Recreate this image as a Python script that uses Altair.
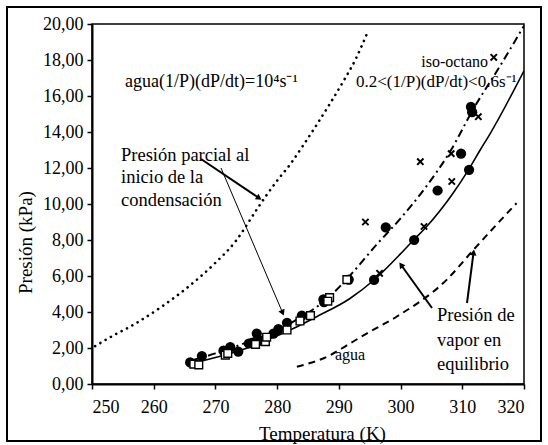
import math
import altair as alt
import pandas as pd

# ---- curves: temperature (K) and pressure (kPa) ----
dotted_T = [250.5, 252.7, 257.0, 261.3, 265.6, 269.9, 273.2, 276.9, 278.3, 280.0, 282.1, 284.3, 286.4, 288.6, 290.7, 292.8, 294.6]
dotted_P = [2.1, 2.55, 3.35, 4.3, 5.4, 6.7, 7.9, 9.8, 10.5, 11.3, 12.2, 13.3, 14.4, 15.6, 16.8, 18.1, 19.5]

dashdot_T = [266, 270, 275, 280, 284, 288, 292, 296, 300, 304, 308, 312, 316, 320]
dashdot_P = [1.3, 1.7, 2.3, 3.0, 3.75, 4.7, 6.1, 7.7, 9.2, 10.9, 12.9, 15.4, 17.6, 19.9]

solid_T = [265.4, 270.3, 275.6, 278.3, 282.1, 286.4, 291.8, 295.6, 299.9, 302.1, 304.2, 308.5, 311.0, 312.9, 314.5, 320.0]
solid_P = [1.1, 1.5, 2.05, 2.44, 3.0, 3.74, 4.75, 5.75, 7.2, 8.0, 8.74, 10.6, 11.9, 13.0, 13.9, 17.4]

water_T = [283.2, 288.6, 291.3, 294.5, 299.4, 307.5, 311.8, 318.8]
water_P = [0.96, 1.6, 2.15, 2.8, 3.75, 5.8, 7.45, 10.05]

# ---- measured points ----
circle_T = [265.9, 267.8, 271.3, 272.4, 273.7, 275.4, 276.0, 276.7, 277.2, 279.4, 280.2, 281.6, 284.0, 287.5, 287.6, 291.6, 295.7, 297.6, 302.2, 306.0, 309.8, 311.1, 311.4, 311.6]
circle_P = [1.2, 1.55, 1.85, 2.05, 1.8, 2.25, 2.3, 2.8, 2.4, 2.8, 3.05, 3.4, 3.8, 4.7, 4.55, 5.8, 5.78, 8.7, 8.0, 10.75, 12.8, 11.9, 15.4, 15.1]

square_T = [266.5, 267.3, 271.6, 272.0, 276.5, 278.1, 278.3, 281.6, 283.7, 285.4, 288.5, 288.2, 291.3]
square_P = [1.1, 1.06, 1.6, 1.7, 2.2, 2.35, 2.6, 3.0, 3.5, 3.8, 4.8, 4.6, 5.8]

cross_T = [315.1, 312.6, 308.2, 303.2, 308.3, 294.3, 303.8, 296.6]
cross_P = [18.15, 14.85, 12.8, 12.35, 11.25, 9.0, 8.75, 6.15]

FONT = "Liberation Serif"
LEFT, TOP = 92, 24          # plot origin inside the page
W, H = 432, 360

x_scale = alt.Scale(domain=[250, 320], nice=False, zero=False)
y_scale = alt.Scale(domain=[0, 20], nice=False, zero=True)
x_axis = alt.Axis(values=list(range(250, 321, 10)), title="Temperatura (K)", grid=False,
                  labelPadding=9, titleX=230, titleY=49, titleBaseline="middle")
y_axis = alt.Axis(values=list(range(0, 21, 2)), title="Presión (kPa)", grid=False,
                  labelExpr="replace(format(datum.value, '.2f'), '.', ',')",
                  titleX=-67, titleY=218, titleBaseline="middle", titleAngle=270)

X = alt.X("T:Q", scale=x_scale, axis=x_axis)
Y = alt.Y("P:Q", scale=y_scale, axis=y_axis)


def frame(ts, ps):
    return pd.DataFrame({"T": ts, "P": ps})


def curve(ts, ps, **style):
    return alt.Chart(frame(ts, ps)).mark_line(color="black", interpolate="monotone", clip=True, **style).encode(x=X, y=Y)


one = pd.DataFrame({"k": [0]})


def px(x):
    return x - LEFT


def py(y):
    return y - TOP


def label(text, x, y, size, align="left"):
    return alt.Chart(one).mark_text(text=text, font=FONT, fontSize=size, align=align,
                                    baseline="middle", color="black").encode(
        x=alt.value(px(x)), y=alt.value(py(y)))


def arrow(tail, head, width):
    tx, ty = tail
    hx, hy = head
    dx, dy = hx - tx, hy - ty
    n = math.hypot(dx, dy)
    ux, uy = dx / n, dy / n
    ang = math.degrees(math.atan2(dx, -dy)) % 360
    line = alt.Chart(one).mark_rule(color="black", strokeWidth=width).encode(
        x=alt.value(px(tx)), y=alt.value(py(ty)),
        x2=alt.value(px(hx - 4 * ux)), y2=alt.value(py(hy - 4 * uy)))
    head_mark = alt.Chart(one).mark_point(shape="triangle-up", filled=True, color="black",
                                          size=45, angle=ang, opacity=1).encode(
        x=alt.value(px(hx - 3.5 * ux)), y=alt.value(py(hy - 3.5 * uy)))
    return line + head_mark


dotted = curve(dotted_T, dotted_P, strokeWidth=2.6, strokeDash=[0.1, 6], strokeCap="round")
dashdot = curve(dashdot_T, dashdot_P, strokeWidth=2, strokeDash=[8, 4, 2, 4])
solid = curve(solid_T, solid_P, strokeWidth=1.6)
water = curve(water_T, water_P, strokeWidth=2, strokeDash=[7, 5])

circles = alt.Chart(frame(circle_T, circle_P)).mark_point(
    shape="circle", filled=True, color="black", size=105, opacity=1).encode(x=X, y=Y)
squares = alt.Chart(frame(square_T, square_P)).mark_point(
    shape="square", filled=True, fill="white", stroke="black", strokeWidth=1.4, size=60, opacity=1).encode(x=X, y=Y)
crosses = alt.Chart(frame(cross_T, cross_P)).mark_point(
    shape="M-1,-1L1,1M-1,1L1,-1", filled=False, color="black", strokeWidth=2, size=40, opacity=1).encode(x=X, y=Y)

border = alt.Chart(one).mark_rect(fill=None, stroke="black", strokeWidth=2, clip=False).encode(
    x=alt.value(px(7)), x2=alt.value(px(541)), y=alt.value(py(7)), y2=alt.value(py(441)))

texts = [
    label("agua(1/P)(dP/dt)=10⁴s⁻¹", 125, 82, 18),
    label("iso-octano", 488, 62, 16, align="right"),
    label("0.2<(1/P)(dP/dt)<0.6s⁻¹", 356, 82, 17),
    label("Presión parcial al", 121, 155, 18.5),
    label("inicio de la", 121, 177, 18.5),
    label("condensación", 121, 200, 18.5),
    label("Presión de", 437, 315, 18.5),
    label("vapor en", 437, 340, 18.5),
    label("equilibrio", 437, 364, 18.5),
    label("agua", 335, 355, 16),
]

arrows = [
    arrow((201, 159), (262, 200), 2),
    arrow((221, 168), (284, 316), 1),
    arrow((432, 308), (399, 262), 2),
    arrow((467, 303), (474, 249), 2),
]

chart = alt.layer(
    dotted, dashdot, solid, water, circles, squares, crosses, border, *texts, *arrows
).properties(
    width=W, height=H, autosize="none", background="white",
    padding={"left": LEFT, "top": TOP, "right": 548 - LEFT - W, "bottom": 445 - TOP - H},
).configure_view(
    stroke="black", strokeWidth=1.5
).configure_axis(
    domainColor="black", domainWidth=2, tickColor="black", tickWidth=1.5, tickSize=5,
    labelFont=FONT, labelFontSize=18, labelColor="black", labelPadding=4,
    titleFont=FONT, titleFontSize=19, titleColor="black", titleFontWeight="normal",
)

chart.save("out.html", embed_options={"renderer": "svg", "actions": False})
